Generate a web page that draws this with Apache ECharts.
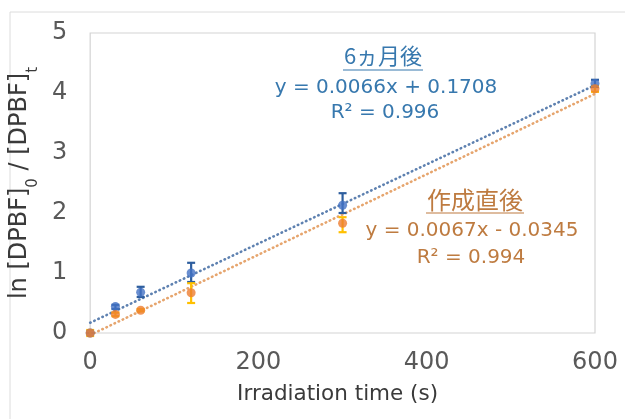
<!DOCTYPE html>
<html>
<head>
<meta charset="utf-8">
<script src="https://cdn.jsdelivr.net/npm/echarts@6/dist/echarts.min.js"></script>
<style>html,body{margin:0;padding:0;background:#fff}#c{width:625px;height:419px}</style>
</head>
<body>
<div id="c"></div>
<script>
// Irradiation time (s)
const xTimes = [0, 30, 60, 120, 300, 600];
// 6ヵ月後 (blue)
const after6m = [0, 0.44, 0.68, 1.0, 2.13, 4.16];
const after6mLow = [0, 0.40, 0.60, 0.85, 2.00, 4.10];
const after6mHigh = [0, 0.47, 0.77, 1.17, 2.33, 4.22];
// 作成直後 (orange)
const fresh = [0, 0.31, 0.38, 0.67, 1.83, 4.07];
const freshLow = [-0.05, 0.28, 0.36, 0.50, 1.68, 4.02];
const freshHigh = [0.05, 0.34, 0.40, 0.83, 1.93, 4.12];
// trendline endpoints from the printed equations
const trend6m = [[0, 0.1708], [600, 4.1308]];
const trendFresh = [[0, -0.0345], [600, 3.9855]];
const xTicks = [0, 200, 400, 600];
const yTicks = [0, 1, 2, 3, 4, 5];

const pts = (xs, ys) => xs.map((x, i) => [x, ys[i]]);
const errs = (xs, lo, hi) => xs.map((x, i) => [x, lo[i], hi[i]]);

function errRender(color) {
  return function (params, api) {
    const x = api.value(0), lo = api.value(1), hi = api.value(2);
    const p1 = api.coord([x, lo]), p2 = api.coord([x, hi]);
    const w = 4;
    const st = { stroke: color, lineWidth: 2.2 };
    return {
      type: 'group',
      children: [
        { type: 'line', shape: { x1: p1[0], y1: p1[1], x2: p2[0], y2: p2[1] }, style: st },
        { type: 'line', shape: { x1: p1[0] - w, y1: p1[1], x2: p1[0] + w, y2: p1[1] }, style: st },
        { type: 'line', shape: { x1: p2[0] - w, y1: p2[1], x2: p2[0] + w, y2: p2[1] }, style: st }
      ]
    };
  };
}

const FONT = 'DejaVu Sans';
const CJK = 'Noto Sans CJK JP';
const BLUE_T = '#3778AE';
const ORG_T = '#BE7B40';

const chart = echarts.init(document.getElementById('c'));
chart.setOption({
  animation: false,
  backgroundColor: '#fff',
  grid: { left: 89, right: 30, top: 33, bottom: 86, show: true, borderColor: '#d4d4d4', borderWidth: 1.2, containLabel: false },
  xAxis: {
    type: 'value', min: xTicks[0], max: xTicks[xTicks.length - 1], interval: 200,
    axisLine: { show: false }, axisTick: { show: false }, splitLine: { show: false },
    axisLabel: { color: '#595959', fontSize: 24, fontFamily: FONT, margin: 18 },
    name: 'Irradiation time (s)', nameLocation: 'middle', nameGap: 50,
    nameTextStyle: { color: '#3a3a3a', fontSize: 21.5, fontFamily: FONT, padding: [0, 10, 0, 0] }
  },
  yAxis: {
    type: 'value', min: yTicks[0], max: yTicks[yTicks.length - 1], interval: 1,
    axisLine: { show: false }, axisTick: { show: false }, splitLine: { show: false },
    axisLabel: { color: '#595959', fontSize: 24, fontFamily: FONT, margin: 23 },
    name: '{a|ln [DPBF]}{b|0}{a| / [DPBF]}{b|t}', nameLocation: 'middle', nameGap: 44, nameRotate: 90,
    nameTextStyle: {
      color: '#3a3a3a', fontFamily: FONT,
      rich: {
        a: { fontSize: 24, fontFamily: FONT, color: '#3a3a3a', lineHeight: 30 },
        b: { fontSize: 15, fontFamily: FONT, color: '#3a3a3a', lineHeight: 30, verticalAlign: 'bottom', padding: [0, 0, -6, 0] }
      }
    }
  },
  series: [
    {
      type: 'line', data: trend6m, symbol: 'none', z: 2,
      lineStyle: { color: '#5E81B0', width: 2.6, type: [0.5, 4], cap: 'round' }
    },
    {
      type: 'line', data: trendFresh, symbol: 'none', z: 2,
      lineStyle: { color: '#E6A56E', width: 2.6, type: [0.5, 4], cap: 'round' }
    },
    {
      type: 'custom', data: errs(xTimes, after6mLow, after6mHigh), renderItem: errRender('#2E5E9E'), z: 3,
      encode: { x: 0, y: [1, 2] }
    },
    {
      type: 'custom', data: errs(xTimes, freshLow, freshHigh), renderItem: errRender('#FFC000'), z: 3,
      encode: { x: 0, y: [1, 2] }
    },
    {
      type: 'scatter', data: pts(xTimes, after6m), symbol: 'circle', symbolSize: 9, z: 4,
      itemStyle: { color: '#4472C4' }
    },
    {
      type: 'scatter', data: pts(xTimes, fresh), symbol: 'circle', symbolSize: 9, z: 5,
      itemStyle: { color: '#ED7D31' }
    }
  ],
  graphic: [
    { type: 'rect', shape: { x: 10, y: 12, width: 640, height: 420 }, style: { fill: 'none', stroke: '#dcdcdc', lineWidth: 1 }, z: -1 },
    { type: 'text', x: 383, y: 56, style: { text: '6ヵ月後', font: '22px "' + CJK + '"', fill: BLUE_T, textAlign: 'center', textVerticalAlign: 'middle' } },
    { type: 'line', shape: { x1: 343, y1: 70, x2: 423, y2: 70 }, style: { stroke: BLUE_T, lineWidth: 1.2 } },
    { type: 'text', x: 386, y: 88, style: { text: 'y = 0.0066x + 0.1708', font: '20px "' + FONT + '"', fill: BLUE_T, textAlign: 'center', textVerticalAlign: 'middle' } },
    { type: 'text', x: 385, y: 113, style: { text: 'R² = 0.996', font: '20px "' + FONT + '"', fill: BLUE_T, textAlign: 'center', textVerticalAlign: 'middle' } },
    { type: 'text', x: 475, y: 200, style: { text: '作成直後', font: '24px "' + CJK + '"', fill: ORG_T, textAlign: 'center', textVerticalAlign: 'middle' } },
    { type: 'line', shape: { x1: 426, y1: 213, x2: 524, y2: 213 }, style: { stroke: ORG_T, lineWidth: 1.2 } },
    { type: 'text', x: 472, y: 231, style: { text: 'y = 0.0067x - 0.0345', font: '20px "' + FONT + '"', fill: ORG_T, textAlign: 'center', textVerticalAlign: 'middle' } },
    { type: 'text', x: 471, y: 258, style: { text: 'R² = 0.994', font: '20px "' + FONT + '"', fill: ORG_T, textAlign: 'center', textVerticalAlign: 'middle' } }
  ]
});
</script>
</body>
</html>
